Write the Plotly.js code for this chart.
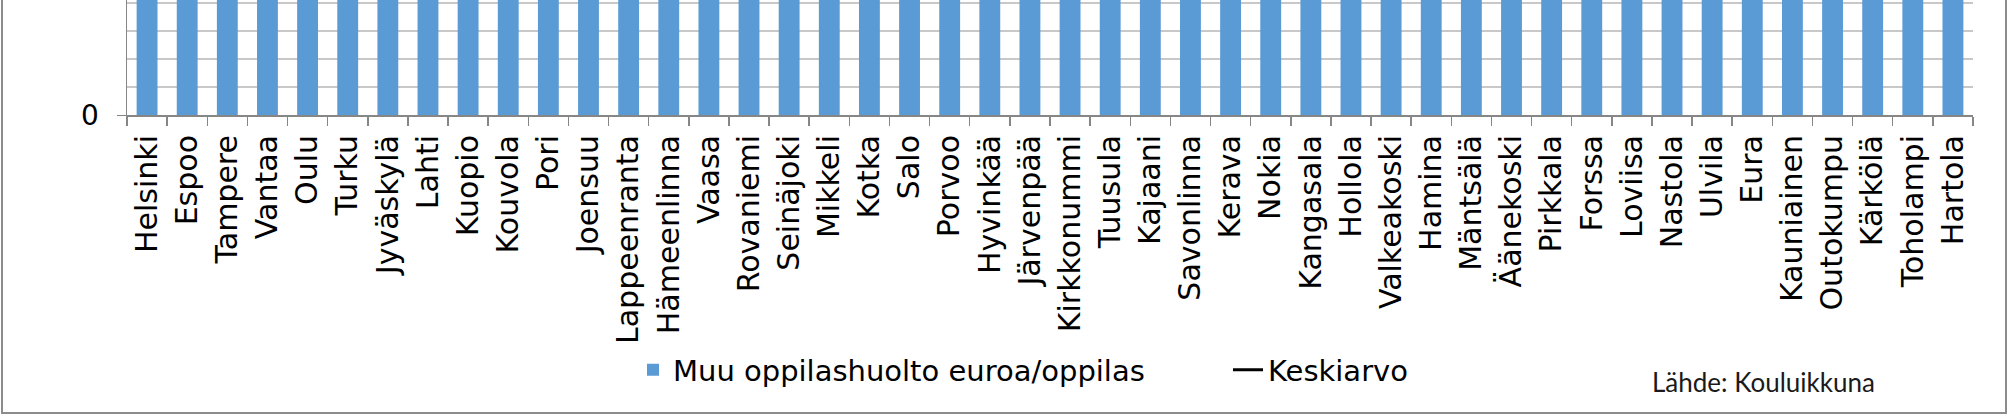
<!DOCTYPE html>
<html>
<head>
<meta charset="utf-8">
<script src="https://cdn.plot.ly/plotly-3.0.1.min.js"></script>
<style>
  html, body { margin: 0; padding: 0; background: #ffffff; overflow: hidden; }
  #wrap { position: relative; width: 2010px; height: 416px; overflow: hidden; }
  #chart { position: absolute; left: 0; top: -40px; width: 2010px; height: 456px; }
</style>
</head>
<body>
<div id="wrap"><div id="chart"></div></div>
<script>
// Categories (municipalities)
const municipalities = [
  "Helsinki", "Espoo", "Tampere", "Vantaa", "Oulu", "Turku", "Jyväskylä", "Lahti",
  "Kuopio", "Kouvola", "Pori", "Joensuu", "Lappeenranta", "Hämeenlinna", "Vaasa",
  "Rovaniemi", "Seinäjoki", "Mikkeli", "Kotka", "Salo", "Porvoo", "Hyvinkää",
  "Järvenpää", "Kirkkonummi", "Tuusula", "Kajaani", "Savonlinna", "Kerava", "Nokia",
  "Kangasala", "Hollola", "Valkeakoski", "Hamina", "Mäntsälä", "Äänekoski", "Pirkkala",
  "Forssa", "Loviisa", "Nastola", "Ulvila", "Eura", "Kauniainen", "Outokumpu",
  "Kärkölä", "Toholampi", "Hartola"
];

// Muu oppilashuolto euroa/oppilas (bars run past the top of the visible crop; estimated)
const muuOppilashuolto = [
  182, 156, 171, 149, 138, 167, 152, 129,
  144, 121, 133, 118, 126, 141, 158,
  112, 109, 131, 123, 104, 147, 116,
  135, 99, 107, 128, 119, 137, 101,
  96, 94, 113, 124, 92, 103, 88,
  111, 97, 86, 91, 84, 163, 105,
  82, 79, 87
];

// Keskiarvo (average line, above the visible crop)
const keskiarvo = 123;

// Y axis ticks (minor gridlines every 10, labelled major every 50)
const yMajorStep = 50;
const yMinorStep = 10;
const yVisibleTop = 41.07;   // value at the top edge of the visible picture

// geometry helpers (page pixels -> paper units)
const hiddenTop = 40;                     // part of the plot area above the visible crop
const plotLeft = 127, plotWidth = 1846;
const plotBottom = 115, plotHeight = 115 + hiddenTop;
const px = v => (v - plotLeft) / plotWidth;
const py = v => (plotBottom - v) / plotHeight;
const yTop = yVisibleTop * plotHeight / 115;

const FONT = "DejaVu Sans, Verdana, sans-serif";

const barTrace = {
  type: "bar",
  name: "Muu oppilashuolto euroa/oppilas",
  x: municipalities,
  y: muuOppilashuolto,
  marker: { color: "#5b9bd5" },
  hoverinfo: "x+y"
};

const avgTrace = {
  type: "scatter",
  mode: "lines",
  name: "Keskiarvo",
  x: [municipalities[0], municipalities[municipalities.length - 1]],
  y: [keskiarvo, keskiarvo],
  line: { color: "#000000", width: 3 }
};

const layout = {
  width: 2010,
  height: 416 + hiddenTop,
  margin: { l: 127, r: 37, t: 0, b: 301, autoexpand: false },
  paper_bgcolor: "#ffffff",
  plot_bgcolor: "#ffffff",
  font: { family: FONT, size: 28, color: "#000000" },
  bargap: 0.48,
  showlegend: true,
  legend: {
    orientation: "h",
    x: px(633),
    xanchor: "left",
    y: py(370),
    yanchor: "middle",
    font: { family: FONT, size: 29, color: "#000000" },
    entrywidth: 550,
    entrywidthmode: "pixels",
    bgcolor: "rgba(0,0,0,0)"
  },
  xaxis: {
    type: "category",
    tickangle: -90,
    showline: true,
    linecolor: "#868686",
    linewidth: 2,
    ticks: "outside",
    tickson: "boundaries",
    ticklen: 9,
    tickwidth: 1.5,
    tickcolor: "#868686",
    showgrid: false,
    zeroline: false,
    tickfont: { family: FONT, size: 30, color: "#000000" },
    ticklabelstandoff: 6,
    automargin: false
  },
  yaxis: {
    range: [0, yTop],
    dtick: yMajorStep,
    tick0: 0,
    showline: true,
    linecolor: "#868686",
    linewidth: 1.5,
    ticks: "outside",
    ticklen: 9,
    tickcolor: "#868686",
    showgrid: true,
    gridcolor: "#c8c8c8",
    gridwidth: 1.5,
    zeroline: false,
    minor: { dtick: yMinorStep, showgrid: true, gridcolor: "#c8c8c8", gridwidth: 1.5, ticks: "" },
    tickfont: { family: FONT, size: 28, color: "#000000" },
    ticklabelstandoff: 12,
    automargin: false
  },
  annotations: [
    {
      text: "Lähde: Kouluikkuna",
      xref: "paper", yref: "paper",
      x: px(1650), y: py(382),
      xanchor: "left", yanchor: "middle",
      showarrow: false,
      font: { family: "Lato, 'Open Sans', sans-serif", size: 26, color: "#1a1a1a" }
    }
  ],
  shapes: [
    {
      type: "rect",
      xref: "paper", yref: "paper",
      x0: px(2), x1: px(2006), y0: py(413), y1: py(-60),
      line: { color: "#8c8c8c", width: 2 },
      fillcolor: "rgba(0,0,0,0)",
      layer: "below"
    }
  ]
};

Plotly.newPlot("chart", [barTrace, avgTrace], layout, { displayModeBar: false, staticPlot: true });
</script>
</body>
</html>
